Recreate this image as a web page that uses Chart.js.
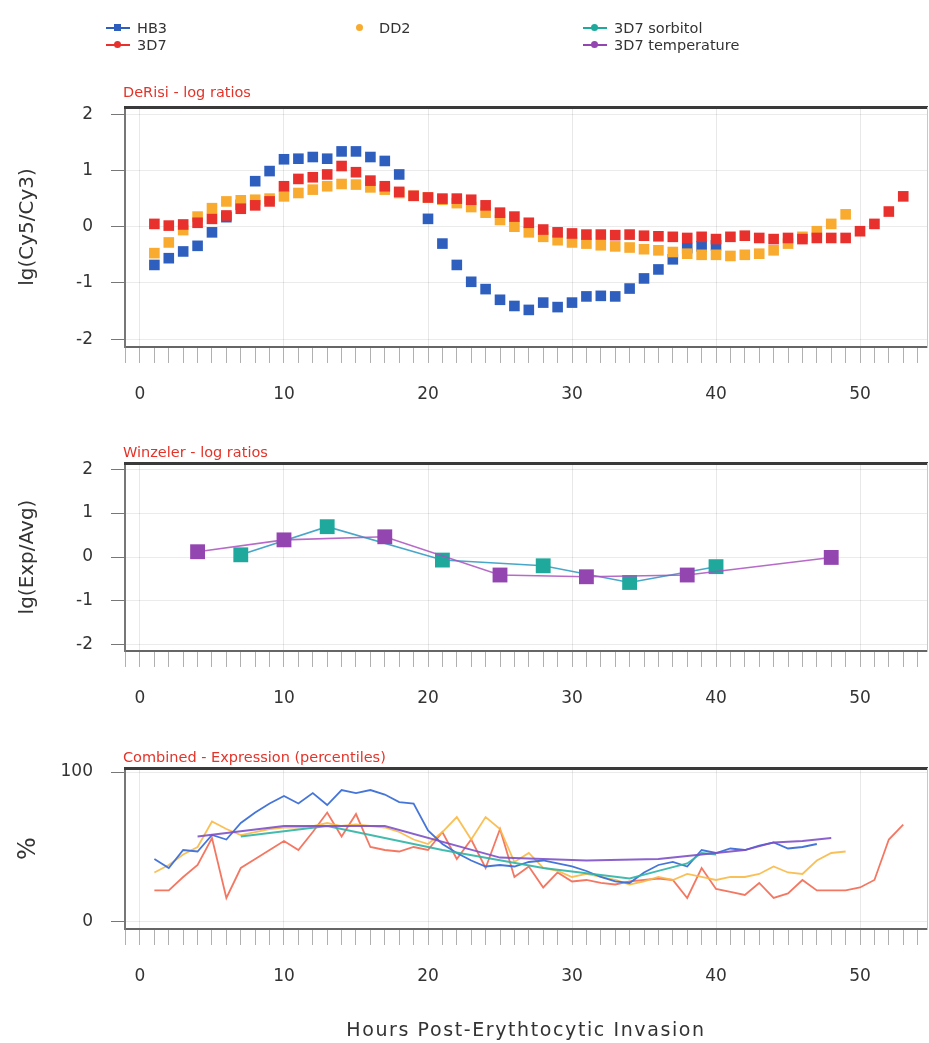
<!DOCTYPE html>
<html>
<head>
<meta charset="utf-8">
<script src="https://cdn.jsdelivr.net/npm/chart.js@4.4.1/dist/chart.umd.min.js"></script>
<style>
  html, body { margin:0; padding:0; background:#fff; }
  body { width:929px; height:1043px; position:relative; overflow:hidden; font-family:"DejaVu Sans", sans-serif; }
  canvas { position:absolute; left:0; }
  .ptitle { position:absolute; left:123px; color:#e3342a; font-size:14.5px; line-height:16px; white-space:nowrap; z-index:2; }
  .leg { position:absolute; font-size:14.5px; line-height:16px; color:#333; white-space:nowrap; z-index:2; }
  .mline { position:absolute; height:2px; }
  .mdot { position:absolute; width:7px; height:7px; }
  #xtitle { position:absolute; left:0; width:1052px; top:1018px; text-align:center; font-size:19px; letter-spacing:1.6px; color:#333; white-space:nowrap; z-index:2; }
</style>
</head>
<body>
<div class="ptitle" style="top:84px">DeRisi - log ratios</div>
<div class="ptitle" style="top:444px">Winzeler - log ratios</div>
<div class="ptitle" style="top:749px">Combined - Expression (percentiles)</div>
<canvas id="c1" width="929" height="430" style="top:0px"></canvas>
<canvas id="c2" width="929" height="300" style="top:430px"></canvas>
<canvas id="c3" width="929" height="313" style="top:730px"></canvas>
<div id="xtitle">Hours Post-Erythtocytic Invasion</div>
<script>
// ---------- series names & colours ----------
const seriesNames = ['HB3', '3D7', 'DD2', '3D7 sorbitol', '3D7 temperature'];
const seriesColors = ['#2f5fbe', '#e8302c', '#f8ab2f', '#1fa99c', '#9446b0'];
const lineColors = ['rgba(60,110,215,0.95)', 'rgba(242,95,70,0.85)', 'rgba(250,185,70,0.9)', 'rgba(45,180,165,0.9)', 'rgba(125,80,200,0.9)'];

// ---------- tick labels ----------
const xTickLabels = [0, 10, 20, 30, 40, 50];
const logTickLabels = [-2, -1, 0, 1, 2];
const pctTickLabels = [0, 100];

// ---------- DeRisi log ratios ----------
const derisiHoursHB3 = [1,2,3,4,5,6,7,8,9,10,11,12,13,14,15,16,17,18,20,21,22,23,24,25,26,27,28,29,30,31,32,33,34,35,36,37,38,39,40];
const derisiHB3 = [-0.68,-0.56,-0.44,-0.34,-0.10,0.17,0.39,0.81,0.99,1.20,1.21,1.24,1.21,1.34,1.34,1.24,1.17,0.93,0.14,-0.30,-0.68,-0.98,-1.11,-1.30,-1.41,-1.48,-1.35,-1.43,-1.35,-1.24,-1.23,-1.24,-1.10,-0.92,-0.76,-0.58,-0.38,-0.35,-0.33];
const derisiHours3D7 = [1,2,3,4,5,6,7,8,9,10,11,12,13,14,15,16,17,18,19,20,21,22,23,24,25,26,27,28,29,30,31,32,33,34,35,36,37,38,39,40,41,42,43,44,45,46,47,48,49,50,51,52,53];
const derisi3D7 = [0.05,0.02,0.04,0.07,0.14,0.20,0.32,0.38,0.45,0.72,0.85,0.88,0.93,1.08,0.97,0.82,0.72,0.62,0.55,0.52,0.50,0.50,0.48,0.38,0.25,0.18,0.07,-0.05,-0.10,-0.12,-0.14,-0.14,-0.15,-0.14,-0.16,-0.17,-0.18,-0.20,-0.18,-0.22,-0.18,-0.16,-0.20,-0.22,-0.20,-0.22,-0.20,-0.20,-0.20,-0.08,0.05,0.27,0.54];
const derisiHoursDD2 = [1,2,3,4,5,6,7,8,9,10,11,12,13,14,15,16,17,18,19,20,21,22,23,24,25,26,27,28,29,30,31,32,33,34,35,36,37,38,39,40,41,42,43,44,45,46,47,48,49];
const derisiDD2 = [-0.47,-0.28,-0.06,0.18,0.33,0.45,0.47,0.48,0.50,0.54,0.60,0.66,0.72,0.76,0.75,0.70,0.66,0.60,0.55,0.52,0.48,0.42,0.35,0.25,0.12,0.00,-0.10,-0.18,-0.24,-0.28,-0.30,-0.33,-0.35,-0.37,-0.40,-0.42,-0.45,-0.48,-0.50,-0.50,-0.52,-0.50,-0.48,-0.42,-0.30,-0.18,-0.08,0.05,0.22];

// ---------- Winzeler log ratios ----------
const winzHoursSorb = [7,13,21,28,34,40];
const winzSorb = [0.05,0.69,-0.07,-0.20,-0.58,-0.22];
const winzHoursTemp = [4,10,17,25,31,38,48];
const winzTemp = [0.12,0.39,0.46,-0.41,-0.45,-0.41,-0.01];

// ---------- Combined percentiles ----------
const combHoursHB3 = [1,2,3,4,5,6,7,8,9,10,11,12,13,14,15,16,17,18,19,20,21,22,23,24,25,26,27,28,29,30,31,32,33,34,35,36,37,38,39,40,41,42,43,44,45,46,47];
const combHB3 = [42,36,48,47,58,55,66,73,79,84,79,86,78,88,86,88,85,80,79,61,52,46,41,37,38,37,40,41,39,37,34,30,27,26,33,38,40,37,48,46,49,48,51,53,49,50,52];
const combHours3D7 = [1,2,3,4,5,6,7,8,9,10,11,12,13,14,15,16,17,18,19,20,21,22,23,24,25,26,27,28,29,30,31,32,33,34,35,36,37,38,39,40,41,42,43,44,45,46,47,48,49,50,51,52,53];
const comb3D7 = [21,21,30,38,56,16,36,42,48,54,48,60,73,57,72,50,48,47,50,48,60,42,55,36,62,30,37,23,33,27,28,26,25,27,28,29,28,16,36,22,20,18,26,16,19,28,21,21,21,23,28,55,65];
const combHoursDD2 = [1,2,3,4,5,6,7,8,9,10,11,12,13,14,15,16,17,18,19,20,21,22,23,24,25,26,27,28,29,30,31,32,33,34,35,36,37,38,39,40,41,42,43,44,45,46,47,48,49];
const combDD2 = [33,38,45,50,67,62,58,60,62,63,63,64,66,64,65,64,63,60,55,52,60,70,55,70,62,40,46,36,34,30,32,30,28,25,27,30,28,32,30,28,30,30,32,37,33,32,41,46,47];
const combHoursSorb = [7,13,21,28,34,36,38,39,40];
const combSorb = [57,64,48,36,29,34,39,46,45];
const combHoursTemp = [4,10,17,25,31,36,38,40,42,44,46,48];
const combTemp = [57,64,64,43,41,42,44,46,48,53,54,56];

// ---------- legend ----------
const legendX = [118, 118, 360, 595, 595];
const legendY = [28, 45, 28, 28, 45];
const legendLine = [true, true, false, true, true];
const legendDotRound = [false, true, true, true, true];
(function buildLegend(){
  seriesNames.forEach((name, i) => {
    const cx = legendX[i], cy = legendY[i];
    if (legendLine[i]) {
      const ln = document.createElement('div');
      ln.className = 'mline';
      ln.style.left = (cx - 12) + 'px'; ln.style.top = (cy - 1) + 'px'; ln.style.width = '24px';
      ln.style.background = seriesColors[i];
      document.body.appendChild(ln);
    }
    const d = document.createElement('div');
    d.className = 'mdot';
    d.style.left = (cx - 4) + 'px'; d.style.top = (cy - 4) + 'px';
    d.style.background = seriesColors[i];
    if (legendDotRound[i]) d.style.borderRadius = '50%';
    document.body.appendChild(d);
    const t = document.createElement('div');
    t.className = 'leg';
    t.textContent = name;
    t.style.left = (cx + 19) + 'px'; t.style.top = (cy - 8) + 'px';
    document.body.appendChild(t);
  });
})();

// ---------- chart helpers ----------
const FONT = '"DejaVu Sans", sans-serif';
const XMIN = -1.04, XMAX = 54.65;
function pts(xs, ys) { return xs.map((x, i) => ({ x: x, y: ys[i] })); }
function noPad(s) { s.paddingLeft = 0; s.paddingRight = 0; s.paddingTop = 0; s.paddingBottom = 0; }

function xAxis(h) {
  return {
    type: 'linear', position: 'bottom', min: XMIN, max: XMAX,
    afterFit: s => { s.height = h; noPad(s); },
    afterBuildTicks: s => { s.ticks = s.ticks.filter(t => Number.isInteger(t.value)); },
    ticks: {
      stepSize: 1, autoSkip: false, includeBounds: false, maxRotation: 0, minRotation: 0,
      padding: 21, color: '#333', font: { family: FONT, size: 17 },
      callback: v => (xTickLabels.includes(v) ? String(v) : '')
    },
    grid: {
      color: c => (c.tick && xTickLabels.includes(c.tick.value)) ? 'rgba(0,0,0,0.09)' : 'rgba(0,0,0,0)',
      tickColor: '#b0b0b0', tickLength: 16, lineWidth: 1
    },
    border: { display: true, color: '#666', width: 2 }
  };
}
function topAxis() {
  return {
    type: 'linear', position: 'top', min: XMIN, max: XMAX,
    afterFit: s => { s.height = 0; noPad(s); },
    ticks: { display: false },
    grid: { display: false, drawTicks: false },
    border: { display: true, color: '#3a3a3a', width: 3 }
  };
}
function rightAxis() {
  return {
    type: 'linear', position: 'right', min: 0, max: 1,
    afterFit: s => { s.width = 2; noPad(s); },
    ticks: { display: false },
    grid: { display: false, drawTicks: false },
    border: { display: true, color: '#c8c8c8', width: 1 }
  };
}
function yAxis(min, max, tickVals, title, titleSize, titlePad) {
  return {
    type: 'linear', position: 'left', min: min, max: max,
    afterFit: s => { s.width = 125; noPad(s); },
    afterBuildTicks: s => { s.ticks = tickVals.map(v => ({ value: v })); },
    ticks: { padding: 18, color: '#333', font: { family: FONT, size: 17 }, callback: v => String(v) },
    grid: { color: 'rgba(0,0,0,0.08)', tickColor: '#777', tickLength: 14 },
    border: { display: true, color: '#777', width: 2 },
    title: { display: true, text: title, color: '#333', font: { family: FONT, size: titleSize }, padding: { top: titlePad, bottom: 0 } }
  };
}
function baseOptions(padTop, scales) {
  return {
    responsive: false, animation: false, devicePixelRatio: 1,
    layout: { autoPadding: false, padding: { top: padTop, left: 0, right: 0, bottom: 0 } },
    plugins: { legend: { display: false }, tooltip: { enabled: false } },
    scales: scales
  };
}
function squares(label, data, color, r) {
  return { label: label, data: data, xAxisID: 'x', yAxisID: 'y', showLine: false, pointStyle: 'rect', pointRadius: r,
    pointBackgroundColor: color, pointBorderWidth: 0, backgroundColor: color, borderColor: color };
}

// ---------- panel 1: DeRisi ----------
new Chart(document.getElementById('c1'), {
  type: 'scatter',
  data: { datasets: [
    squares(seriesNames[1], pts(derisiHours3D7, derisi3D7), seriesColors[1], 7.5),
    squares(seriesNames[2], pts(derisiHoursDD2, derisiDD2), seriesColors[2], 7.5),
    squares(seriesNames[0], pts(derisiHoursHB3, derisiHB3), seriesColors[0], 7.5)
  ]},
  options: baseOptions(107, {
    x: xAxis(83), y: yAxis(-2.14, 2.13, logTickLabels, 'lg(Cy5/Cy3)', 20, 16),
    xt: topAxis(), yr: rightAxis()
  })
});

// ---------- panel 2: Winzeler ----------
function winzSet(label, data, color, lineColor) {
  return { label: label, data: data, xAxisID: 'x', yAxisID: 'y', showLine: true, borderColor: lineColor, borderWidth: 1.6, tension: 0,
    pointStyle: 'rect', pointRadius: 10.5, pointBackgroundColor: color, pointBorderWidth: 0, backgroundColor: color };
}
new Chart(document.getElementById('c2'), {
  type: 'scatter',
  data: { datasets: [
    winzSet(seriesNames[4], pts(winzHoursTemp, winzTemp), seriesColors[4], 'rgba(170,80,190,0.85)'),
    winzSet(seriesNames[3], pts(winzHoursSorb, winzSorb), seriesColors[3], 'rgba(40,150,190,0.85)')
  ]},
  options: baseOptions(33, {
    x: xAxis(79), y: yAxis(-2.14, 2.14, logTickLabels, 'lg(Exp/Avg)', 20, 16),
    xt: topAxis(), yr: rightAxis()
  })
});

// ---------- panel 3: Combined ----------
function combSet(label, data, color) {
  return { label: label, data: data, xAxisID: 'x', yAxisID: 'y', showLine: true, borderColor: color, borderWidth: 1.8, tension: 0,
    pointRadius: 0, backgroundColor: color };
}
new Chart(document.getElementById('c3'), {
  type: 'scatter',
  data: { datasets: [
    combSet(seriesNames[4], pts(combHoursTemp, combTemp), lineColors[4]),
    combSet(seriesNames[3], pts(combHoursSorb, combSorb), lineColors[3]),
    combSet(seriesNames[0], pts(combHoursHB3, combHB3), lineColors[0]),
    combSet(seriesNames[2], pts(combHoursDD2, combDD2), lineColors[2]),
    combSet(seriesNames[1], pts(combHours3D7, comb3D7), lineColors[1])
  ]},
  options: baseOptions(38, {
    x: xAxis(114), y: yAxis(-4.7, 102.7, pctTickLabels, '%', 24, 14),
    xt: topAxis(), yr: rightAxis()
  })
});
</script>
</body>
</html>
